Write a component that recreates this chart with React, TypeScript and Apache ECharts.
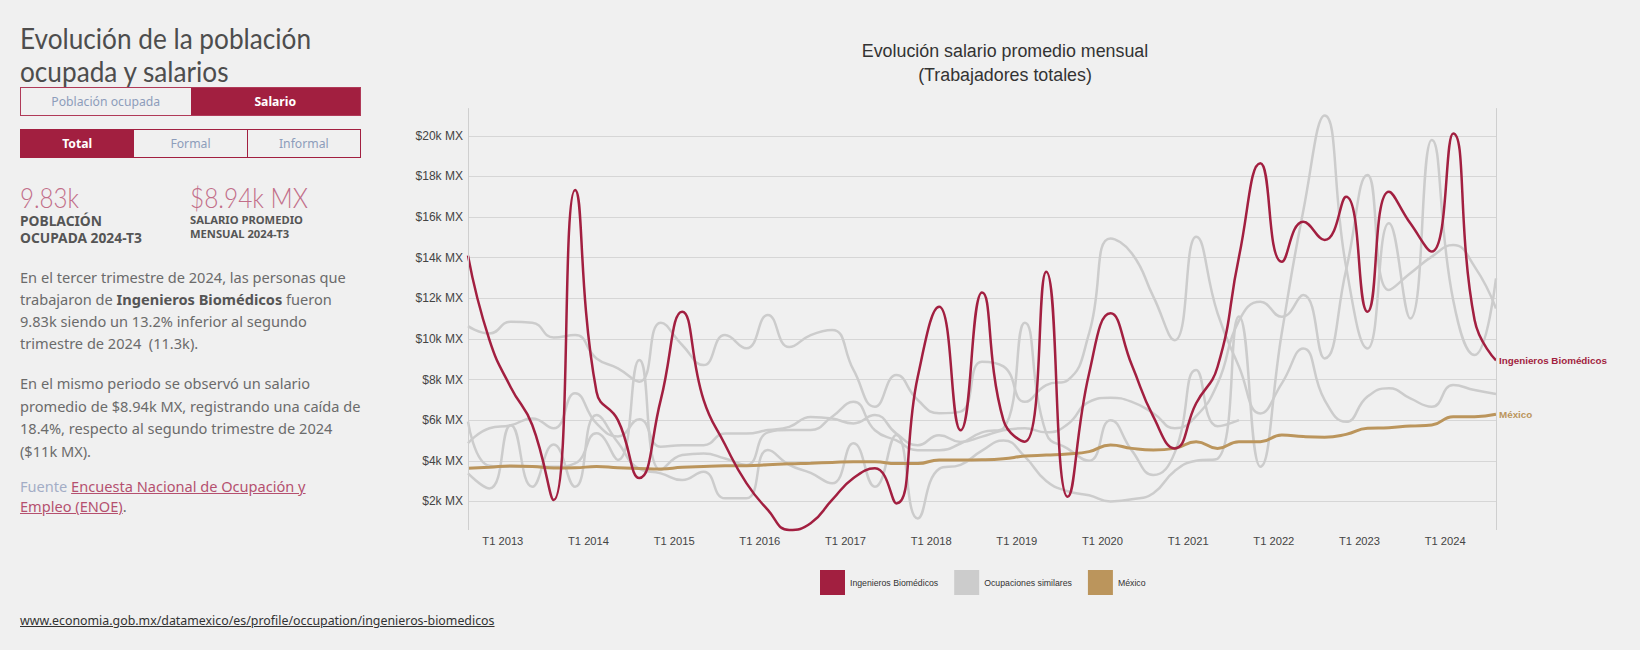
import React, { useEffect, useRef } from "react";
import * as echarts from "echarts";

// ---------- DATA ----------
const quarters = [
  "T3 2012", "T4 2012",
  "T1 2013", "T2 2013", "T3 2013", "T4 2013",
  "T1 2014", "T2 2014", "T3 2014", "T4 2014",
  "T1 2015", "T2 2015", "T3 2015", "T4 2015",
  "T1 2016", "T2 2016", "T3 2016", "T4 2016",
  "T1 2017", "T2 2017", "T3 2017", "T4 2017",
  "T1 2018", "T2 2018", "T3 2018", "T4 2018",
  "T1 2019", "T2 2019", "T3 2019", "T4 2019",
  "T1 2020", "T2 2020", "T3 2020", "T4 2020",
  "T1 2021", "T2 2021", "T3 2021", "T4 2021",
  "T1 2022", "T2 2022", "T3 2022", "T4 2022",
  "T1 2023", "T2 2023", "T3 2023", "T4 2023",
  "T1 2024", "T2 2024", "T3 2024",
];

const ingenieros = [
  14100, 9950, 7610, 5760, 2070, 17330, 7400, 6000, 3150, 7000, 11340, 7000,
  4800, 2900, 1580, 590, 920, 2070, 3150, 3630, 1900, 8140, 11580, 5500,
  12280, 6000, 4940, 13310, 2230, 8300, 11260, 8700, 6170, 4610, 6830, 8630,
  14050, 18650, 13800, 15770, 14870, 17000, 11340, 17250, 15690, 14300, 20120,
  10930, 8940,
];

const mexico = [
  3630, 3680, 3740, 3720, 3640, 3650, 3720, 3650, 3620, 3600, 3680, 3720,
  3750, 3760, 3800, 3850, 3880, 3920, 3950, 3950, 3860, 3860, 4040, 4040,
  4050, 4100, 4230, 4280, 4330, 4450, 4780, 4610, 4530, 4610, 4940, 4610,
  4940, 4940, 5270, 5190, 5160, 5300, 5600, 5630, 5710, 5760, 6170, 6170, 6290,
];

const similar1 = [
  10630, 10270, 10850, 10800, 10070, 10190, 9040, 8550, 7890, 10800, 9700, 8710,
  10190, 9540, 11180, 9600, 10190, 10440, 8470, 6660, 8220, 6990, 6340, 6420,
  8880, 8650, 6900, 7730, 7970, 10270, 14950, 14210, 12080, 9940, 15030, 11260,
  8630, 6330, 7810, 9530, 6990, 5920, 7160, 7570, 7070, 6660, 7730, 7480, 7290,
];

const similar2 = [
  4860, 5600, 5750, 6080, 5600, 7320, 5840, 5200, 6050, 4690, 4770, 4770,
  5340, 5340, 5510, 5670, 6160, 6080, 5840, 6250, 5340, 4770, 5260, 4930,
  5190, 5500, 5600, 5400, 5800, 6900, 7100, 6900, 6340, 5600, 6200, 7800,
  10900, 11830, 11090, 12160, 9040, 13390, 18070, 12410, 13230, 14050, 14620,
  13560, 11500,
];

const similar3 = [
  5930, 3750, 3700, 3720, 3700, 3870, 5350, 4040, 8960, 3540, 4280, 4360,
  4110, 3790, 5400, 5520, 5520, 6170, 6900, 5500, 5000, 4520, 4520, 4850,
  5400, 5600, 10800, 5350, 4600, 4000, 6000, 4500, 3300, 4400, 8470, 5700,
  6000, null, null, null, null, null, null, null, null, null, null, null, null,
];

const similar4 = [
  3380, 2640, 5750, 2720, 4800, 2720, 6250, 4900, 3600, 3380, 3050, 3460,
  2150, 2150, 4530, 3800, 3400, 2890, 4860, 2720, 5270, 1160, 3600, 3800,
  4500, 5000, 4200, 3000, 2500, 2300, 2000, 2100, 2400, 3500, 4000, 4100,
  11100, 3710, 10300, 16300, 21000, 13560, 9530, 15690, 11010, 19790, 11920,
  9210, 12980,
];

const similarSeries = [similar1, similar2, similar3, similar4];

const yTicksMax = 22000;
const yTickStep = 2000;
const axisLineFrom = 591;
const axisLineTo = 21364;

const chartTitle = "Evolución salario promedio mensual\n(Trabajadores totales)";
const nameIng = "Ingenieros Biomédicos";
const nameSim = "Ocupaciones similares";
const nameMex = "México";

// ---------- STYLE ----------
const RED = "#a21f40";
const GRAY = "#cccccc";
const GOLD = "#bb955c";
const BG = "#f0f0f0";
const NARROW =
  '"Liberation Sans Narrow", "Arial Narrow", "Liberation Sans", Arial, sans-serif';
const SANS = '"Noto Sans", "Open Sans", sans-serif';
const DISPLAY = 'Lato, "Liberation Sans", sans-serif';

let measureCtx: CanvasRenderingContext2D | null = null;
function textWidth(text: string, font: string): number {
  if (!measureCtx) measureCtx = document.createElement("canvas").getContext("2d");
  if (!measureCtx) return 100;
  measureCtx.font = font;
  return measureCtx.measureText(text).width;
}
// font size that makes `text` as wide as `target`
function fitSize(text: string, family: string, weight: string, target: number) {
  const w = textWidth(text, `${weight} 100px ${family}`);
  return w > 0 ? (100 * target) / w : 12;
}
// horizontal scale for a fixed font size so `text` spans `target`
function fitScale(text: string, family: string, weight: string, size: number, target: number) {
  const w = textWidth(text, `${weight} ${size}px ${family}`);
  return w > 0 ? target / w : 1;
}

function Chart() {
  const ref = useRef<HTMLDivElement>(null);
  useEffect(() => {
    if (!ref.current) return;
    const titleSize = Math.min(20, 1.05 * fitSize("Evolución salario promedio mensual", NARROW, "normal", 273));
    const yLabSize = Math.min(13.5, 1.08 * fitSize("$20k MX", NARROW, "normal", 44));
    const xLabSize = Math.min(13, 1.08 * fitSize("T1 2013", NARROW, "normal", 38));
    const legSize = Math.min(11.5, 1.04 * fitSize("Ingenieros Biomédicos", NARROW, "normal", 85));
    const endSize = Math.min(12.5, 1.05 * fitSize("Ingenieros Biomédicos", NARROW, "bold", 103));

    const chart = echarts.init(ref.current, undefined, { renderer: "svg" });
    const graySeries = similarSeries.map((d, k) => ({
      name: nameSim,
      type: "line",
      data: d,
      color: GRAY,
      smooth: 0.5,
      showSymbol: false,
      silent: true,
      connectNulls: false,
      lineStyle: { color: GRAY, width: 2.5 },
      itemStyle: { color: GRAY },
      z: 2,
      markLine:
        k === 0
          ? {
              silent: true,
              symbol: ["none", "none"],
              label: { show: false },
              lineStyle: { color: "#cfcfcf", width: 1, type: "solid" },
              data: [
                [
                  { coord: [quarters[0], axisLineFrom] },
                  { coord: [quarters[0], axisLineTo] },
                ],
                [
                  { coord: [quarters[quarters.length - 1], axisLineFrom] },
                  { coord: [quarters[quarters.length - 1], axisLineTo] },
                ],
              ],
            }
          : undefined,
    }));
    chart.setOption({
      animation: false,
      backgroundColor: "transparent",
      title: {
        text: chartTitle,
        left: 1005,
        top: 39,
        padding: 0,
        textAlign: "center",
        textStyle: {
          fontFamily: NARROW,
          fontSize: titleSize,
          lineHeight: 24,
          fontWeight: "normal",
          color: "#333333",
        },
      },
      legend: {
        data: [nameIng, nameSim, nameMex],
        left: 820,
        top: 570,
        padding: 0,
        icon: "rect",
        itemWidth: 25,
        itemHeight: 25,
        itemGap: 16,
        selectedMode: false,
        textStyle: { fontFamily: NARROW, fontSize: legSize, color: "#333333" },
      },
      grid: { left: 468, right: 144, top: 95.2, bottom: 108, containLabel: false },
      xAxis: {
        type: "category",
        data: quarters,
        boundaryGap: false,
        offset: -13,
        axisLine: { show: false },
        axisTick: { show: false },
        splitLine: { show: false },
        axisLabel: {
          interval: (_i: number, v: string) => v.startsWith("T1"),
          margin: 6,
          fontFamily: NARROW,
          fontSize: xLabSize,
          color: "#444444",
          padding: [0, 16, 0, 0],
        },
      },
      yAxis: {
        type: "value",
        min: 0,
        max: yTicksMax,
        interval: yTickStep,
        axisLine: { show: false },
        axisTick: { show: false },
        splitLine: {
          show: true,
          showMinLine: false,
          showMaxLine: false,
          lineStyle: { color: "#d6d6d6", width: 1 },
        },
        axisLabel: {
          formatter: (v: number) =>
            v === 0 || v === yTicksMax ? "" : `$${v / 1000}k MX`,
          margin: 5,
          fontFamily: NARROW,
          fontSize: yLabSize,
          color: "#444444",
        },
      },
      series: [
        ...graySeries,
        {
          name: nameMex,
          type: "line",
          data: mexico,
          color: GOLD,
          smooth: 0.5,
          showSymbol: false,
          silent: true,
          lineStyle: { color: GOLD, width: 3 },
          itemStyle: { color: GOLD },
          z: 3,
          endLabel: {
            show: true,
            formatter: nameMex,
            color: GOLD,
            fontFamily: NARROW,
            fontSize: endSize,
            fontWeight: "bold",
            distance: 3,
          },
        },
        {
          name: nameIng,
          type: "line",
          data: ingenieros,
          color: RED,
          smooth: 0.5,
          showSymbol: false,
          silent: true,
          lineStyle: { color: RED, width: 2.5 },
          itemStyle: { color: RED },
          z: 4,
          endLabel: {
            show: true,
            formatter: nameIng,
            color: RED,
            fontFamily: NARROW,
            fontSize: endSize,
            fontWeight: "bold",
            distance: 3,
          },
        },
      ],
    });
    return () => chart.dispose();
  }, []);
  return (
    <div
      ref={ref}
      style={{ position: "absolute", left: 0, top: 0, width: 1640, height: 650 }}
    />
  );
}

function LeftPanel() {
  const line: React.CSSProperties = { whiteSpace: "nowrap" };
  const paraSize = Math.min(15, fitSize("En el tercer trimestre de 2024, las personas que", SANS, "normal", 326));
  const btnSize = Math.min(14, fitSize("Población ocupada", SANS, "normal", 109));
  const statLab1 = Math.min(14, fitSize("OCUPADA 2024-T3", SANS, "bold", 122));
  const statLab2 = Math.min(13, fitSize("SALARIO PROMEDIO", SANS, "bold", 113));
  const urlSize = Math.min(13.5, fitSize("www.economia.gob.mx/datamexico/es/profile/occupation/ingenieros-biomedicos", SANS, "normal", 475));
  const titleScale = fitScale("Evolución de la población", DISPLAY, "normal", 29, 291);
  const stat1Scale = fitScale("9.83k", DISPLAY, "300", 28, 59);
  const stat2Scale = fitScale("$8.94k MX", DISPLAY, "300", 28, 118);

  const btnBase: React.CSSProperties = {
    flex: 1,
    display: "flex",
    alignItems: "center",
    justifyContent: "center",
    fontFamily: SANS,
    fontSize: btnSize,
    color: "#8d9dbb",
  };

  return (
    <div style={{ position: "absolute", left: 0, top: 0, width: 400, height: 650, zIndex: 1 }}>
      <div
        style={{
          position: "absolute",
          left: 20,
          top: 21,
          fontFamily: DISPLAY,
          fontSize: 29,
          lineHeight: "33px",
          color: "#4d4d4d",
          whiteSpace: "nowrap",
          transform: `scaleX(${titleScale})`,
          transformOrigin: "left top",
        }}
      >
        Evolución de la población
        <br />
        ocupada y salarios
      </div>
      <div
        style={{
          position: "absolute",
          left: 20,
          top: 87,
          width: 341,
          height: 29,
          display: "flex",
          border: "1px solid #b03a58",
          boxSizing: "border-box",
        }}
      >
        <div style={btnBase}>Población ocupada</div>
        <div style={{ ...btnBase, background: RED, color: "#ffffff", fontWeight: "bold" }}>Salario</div>
      </div>
      <div
        style={{
          position: "absolute",
          left: 20,
          top: 129,
          width: 341,
          height: 29,
          display: "flex",
          border: "1px solid " + RED,
          boxSizing: "border-box",
        }}
      >
        <div style={{ ...btnBase, background: RED, color: "#ffffff", fontWeight: "bold" }}>Total</div>
        <div style={{ ...btnBase, borderLeft: "1px solid " + RED, borderRight: "1px solid " + RED }}>Formal</div>
        <div style={btnBase}>Informal</div>
      </div>
      <div
        style={{
          position: "absolute",
          left: 20,
          top: 183,
          fontFamily: DISPLAY,
          fontWeight: 300,
          fontSize: 28,
          lineHeight: "28px",
          color: "#c26e89",
          whiteSpace: "nowrap",
          transform: `scaleX(${stat1Scale})`,
          transformOrigin: "left top",
        }}
      >
        9.83k
      </div>
      <div
        style={{
          position: "absolute",
          left: 190,
          top: 183,
          fontFamily: DISPLAY,
          fontWeight: 300,
          fontSize: 28,
          lineHeight: "28px",
          color: "#c26e89",
          whiteSpace: "nowrap",
          transform: `scaleX(${stat2Scale})`,
          transformOrigin: "left top",
        }}
      >
        $8.94k MX
      </div>
      <div
        style={{
          position: "absolute",
          left: 20,
          top: 213,
          fontFamily: SANS,
          fontWeight: "bold",
          fontSize: statLab1,
          lineHeight: "16.5px",
          color: "#555555",
          whiteSpace: "nowrap",
        }}
      >
        POBLACIÓN
        <br />
        OCUPADA 2024-T3
      </div>
      <div
        style={{
          position: "absolute",
          left: 190,
          top: 213,
          fontFamily: SANS,
          fontWeight: "bold",
          fontSize: statLab2,
          lineHeight: "14px",
          color: "#555555",
          whiteSpace: "nowrap",
        }}
      >
        SALARIO PROMEDIO
        <br />
        MENSUAL 2024-T3
      </div>
      <div
        style={{
          position: "absolute",
          left: 20,
          top: 266,
          fontFamily: SANS,
          fontSize: paraSize,
          lineHeight: "22px",
          color: "#6b6b6b",
        }}
      >
        <div style={line}>En el tercer trimestre de 2024, las personas que</div>
        <div style={line}>
          trabajaron de <b style={{ color: "#555555" }}>Ingenieros Biomédicos</b> fueron
        </div>
        <div style={line}>9.83k siendo un 13.2% inferior al segundo</div>
        <div style={line}>trimestre de 2024&nbsp; (11.3k).</div>
      </div>
      <div
        style={{
          position: "absolute",
          left: 20,
          top: 372,
          fontFamily: SANS,
          fontSize: paraSize,
          lineHeight: "22.5px",
          color: "#6b6b6b",
        }}
      >
        <div style={line}>En el mismo periodo se observó un salario</div>
        <div style={line}>promedio de $8.94k MX, registrando una caída de</div>
        <div style={line}>18.4%, respecto al segundo trimestre de 2024</div>
        <div style={line}>($11k MX).</div>
      </div>
      <div
        style={{
          position: "absolute",
          left: 20,
          top: 476,
          fontFamily: SANS,
          fontSize: paraSize,
          lineHeight: "20px",
          color: "#6b6b6b",
        }}
      >
        <div style={line}>
          <span style={{ color: "#a3adc6" }}>Fuente </span>
          <span style={{ color: "#b5506f", textDecoration: "underline" }}>
            Encuesta Nacional de Ocupación y
          </span>
        </div>
        <div style={line}>
          <span style={{ color: "#b5506f", textDecoration: "underline" }}>Empleo (ENOE)</span>.
        </div>
      </div>
      <div
        style={{
          position: "absolute",
          left: 20,
          top: 612,
          fontFamily: SANS,
          fontSize: urlSize,
          lineHeight: "17px",
          color: "#333333",
          textDecoration: "underline",
          whiteSpace: "nowrap",
        }}
      >
        www.economia.gob.mx/datamexico/es/profile/occupation/ingenieros-biomedicos
      </div>
    </div>
  );
}

export default function App() {
  return (
    <div
      style={{
        position: "absolute",
        left: 0,
        top: 0,
        width: 1640,
        height: 650,
        background: BG,
        overflow: "hidden",
      }}
    >
      <Chart />
      <LeftPanel />
    </div>
  );
}
